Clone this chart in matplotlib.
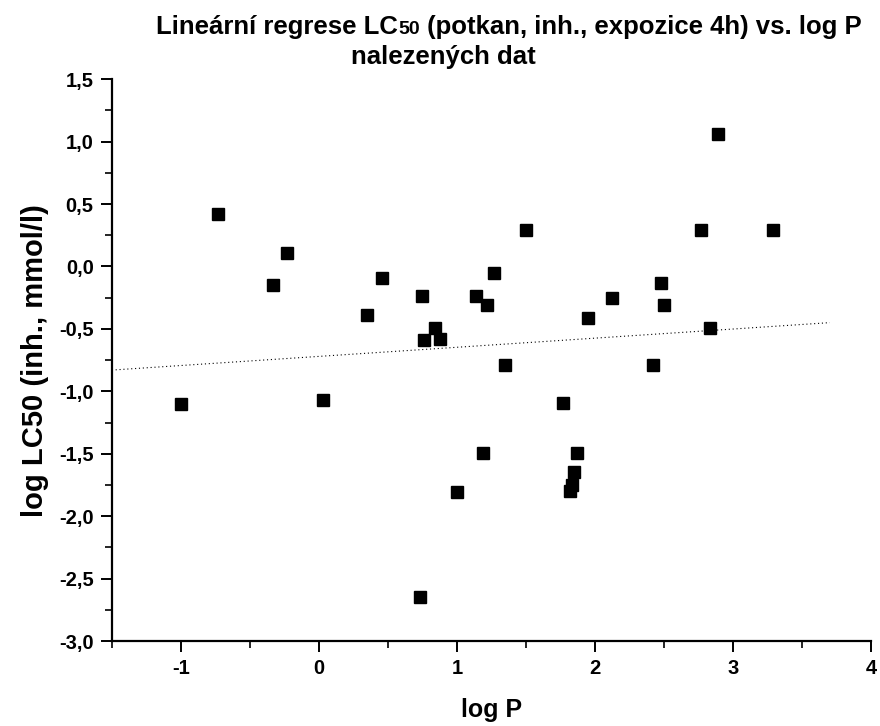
import numpy as np
import matplotlib
matplotlib.use('Agg')
import matplotlib.pyplot as plt
from matplotlib.ticker import MultipleLocator, FuncFormatter

# log P values and log LC50 (inh., mmol/l)
logP = [-1.00, -0.73, -0.33, -0.23, 0.03, 0.35, 0.46, 0.75, 0.76, 0.73,
        0.84, 0.88, 1.00, 1.14, 1.19, 1.22, 1.27, 1.35, 1.50, 1.77,
        1.82, 1.83, 1.85, 1.87, 1.95, 2.12, 2.42, 2.48, 2.50, 2.77,
        2.83, 2.89, 3.29]
logLC50 = [-1.10, 0.42, -0.15, 0.11, -1.07, -0.39, -0.09, -0.24, -0.59, -2.65,
           -0.49, -0.58, -1.81, -0.24, -1.49, -0.31, -0.05, -0.79, 0.29, -1.09,
           -1.80, -1.75, -1.65, -1.49, -0.41, -0.25, -0.79, -0.13, -0.31, 0.29,
           -0.49, 1.06, 0.29]
# regression line ends as drawn in the original
fit_x = [-1.5, 3.7]
fit_y = [-0.83, -0.45]

plt.rcParams['font.family'] = ['Liberation Sans', 'DejaVu Sans']
plt.rcParams['font.weight'] = 'bold'

fig = plt.figure(figsize=(8.8, 7.26), dpi=100)
ax = fig.add_axes([0.127, 0.117, 0.863, 0.774])

ax.plot(logP, logLC50, 's', color='black', markersize=8.3, zorder=3)
ax.plot(fit_x, fit_y, color='black', linestyle=(0, (1, 2.5)), linewidth=0.8)

ax.set_xlim(-1.5, 4)
ax.set_ylim(-3.0, 1.5)
ax.xaxis.set_major_locator(MultipleLocator(1))
ax.xaxis.set_minor_locator(MultipleLocator(0.5))
ax.yaxis.set_major_locator(MultipleLocator(0.5))
ax.yaxis.set_minor_locator(MultipleLocator(0.25))
ax.yaxis.set_major_formatter(FuncFormatter(lambda v, p: ('%.1f' % v).replace('.', ',')))
ax.xaxis.set_major_formatter(FuncFormatter(lambda v, p: '%d' % round(v)))

ax.spines['top'].set_visible(False)
ax.spines['right'].set_visible(False)
ax.spines['left'].set_linewidth(1.6)
ax.spines['bottom'].set_linewidth(1.6)
ax.tick_params(which='major', direction='out', length=8, width=1.4, labelsize=14.5, pad=5)
ax.tick_params(which='minor', direction='out', length=5, width=1.2)
for lab in ax.get_xticklabels() + ax.get_yticklabels():
    lab.set_fontweight('bold')

ax.set_xlabel('log P', fontsize=18, fontweight='bold', labelpad=14)
ax.set_ylabel('log LC50 (inh., mmol/l)', fontsize=21, fontweight='bold', labelpad=7)

# title: "50" set smaller on the same baseline
pieces = [('Lineární regrese LC', 18.5), ('50', 14), (' (potkan, inh., expozice 4h) vs. log P', 18.5)]
r = fig.canvas.get_renderer()
tmp = [fig.text(0, 0, s, fontsize=fs, fontweight='bold') for s, fs in pieces]
widths = [t.get_window_extent(r).width for t in tmp]
for t in tmp:
    t.remove()
x0 = 509 - sum(widths) / 2
for (s, fs), w in zip(pieces, widths):
    fig.text(x0 / 880, 0.953, s, fontsize=fs, fontweight='bold', va='baseline', ha='left')
    x0 += w
fig.text(443 / 880, 0.912, 'nalezených dat', fontsize=18.5, fontweight='bold', va='baseline', ha='center')

fig.savefig('out.png', dpi=100)
